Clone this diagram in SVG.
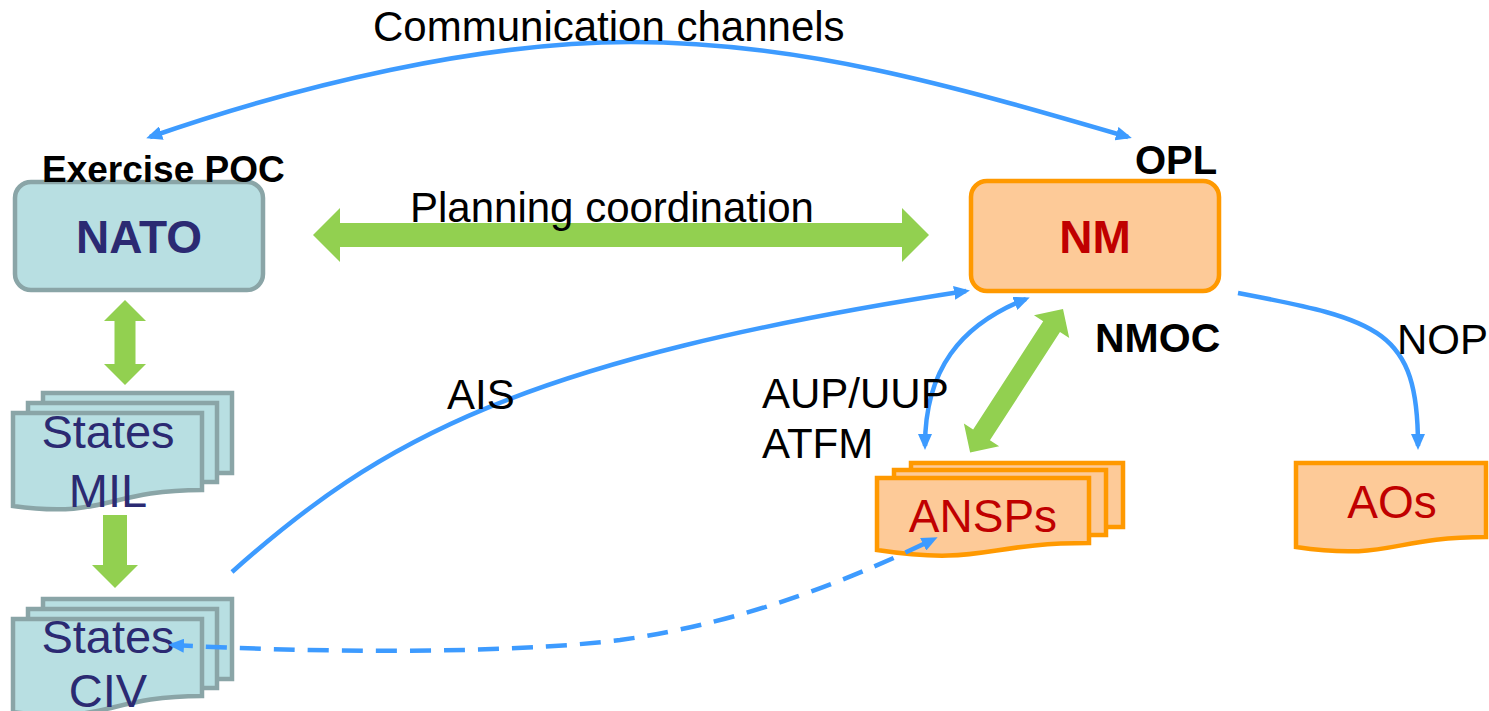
<svg xmlns="http://www.w3.org/2000/svg" width="1489" height="711" viewBox="0 0 1489 711">
<style>
text{font-family:"Liberation Sans",Arial,sans-serif;}
.lbl{font-size:42px;fill:#000;}
.blbl{font-weight:bold;fill:#000;}
.blue{fill:#b8dfe2;stroke:#8aa5a7;stroke-width:4.5;}
.org{fill:#fdca98;stroke:#ff9900;stroke-width:4.5;}
.navy{fill:#2b2a72;}
.red{fill:#c00000;}
.con{fill:none;stroke:#3d9bff;stroke-width:4.5;}
.dash{stroke-dasharray:21 13;}
.green{fill:#92d050;}
</style>
<defs>
<marker id="ah" markerUnits="userSpaceOnUse" markerWidth="16" markerHeight="14" refX="12" refY="7" orient="auto-start-reverse" viewBox="0 0 16 14">
<path d="M0,0 L16,7 L0,14 Z" fill="#3d9bff"/>
</marker>
<g id="multidoc-blue">
<rect class="blue" x="30" y="-20" width="189" height="80"/>
<rect class="blue" x="15" y="-10" width="189" height="79"/>
<path class="blue" d="M0,0 H189 V77 C94,77 94,106 0,93 Z"/>
</g>
</defs>

<g id="nato">
<rect class="blue" x="15" y="182" width="248" height="108" rx="16"/>
<text class="navy" x="139" y="253" font-size="46" font-weight="bold" text-anchor="middle">NATO</text>
</g>

<g id="nm">
<rect class="org" x="971" y="181" width="248" height="110" rx="16"/>
<text class="red" x="1095" y="253" font-size="46" font-weight="bold" text-anchor="middle">NM</text>
</g>

<g id="states-mil">
<use href="#multidoc-blue" transform="translate(13,413)"/>
<text class="navy" x="108" y="448" font-size="47" text-anchor="middle">States</text>
<text class="navy" x="108" y="507" font-size="47" text-anchor="middle">MIL</text>
</g>

<g id="states-civ">
<use href="#multidoc-blue" transform="translate(13,619)"/>
<text class="navy" x="108" y="653" font-size="47" text-anchor="middle">States</text>
<text class="navy" x="108" y="707" font-size="47" text-anchor="middle">CIV</text>
</g>

<g id="ansps">
<g transform="translate(877,478)">
<rect class="org" x="34" y="-15" width="212" height="64"/>
<rect class="org" x="17" y="-8" width="212" height="65"/>
<path class="org" d="M0,0 H212 V65 C106,65 106,88 0,72 Z"/>
</g>
<text class="red" x="983" y="532" font-size="46" text-anchor="middle">ANSPs</text>
</g>

<g id="aos">
<path class="org" d="M1296,463 H1486 V537 C1391,537 1391,561 1296,547 Z"/>
<text class="red" x="1392" y="518" font-size="46" text-anchor="middle">AOs</text>
</g>

<g id="connectors">
<path class="con" d="M150,137 C300,85 480,42 631,42 C800,42 950,85 1128,137" marker-start="url(#ah)" marker-end="url(#ah)"/>
<polygon class="green" points="313,235 340,208 340,223 902,223 902,208 929,235 902,262 902,247 340,247 340,262"/>
<polygon class="green" points="125,300 146,321 135.5,321 135.5,364 146,364 125,385 104,364 114.5,364 114.5,321 104,321"/>
<polygon class="green" points="103,515 127,515 127,565 138,565 115,588 92,565 103,565"/>
<polygon class="green" transform="translate(1063,309) rotate(122.9)" points="0,0 21,-21 21,-10 150,-10 150,-21 171,0 150,21 150,10 21,10 21,21"/>
<path class="con" d="M232,572 C380,440 520,360 966,291" marker-end="url(#ah)"/>
<path class="con" d="M1026,299 C960,325 925,370 925,446" marker-start="url(#ah)" marker-end="url(#ah)"/>
<path class="con" d="M1238,293 C1380,320 1418,330 1418,446" marker-end="url(#ah)"/>
<path class="con dash" d="M172,645 C300,652 500,655 620,640 C750,622 860,575 934,539" marker-start="url(#ah)" marker-end="url(#ah)"/>
</g>

<g id="labels">
<text class="lbl" x="373" y="41" font-size="42.5">Communication channels</text>
<text class="lbl" x="410" y="222">Planning coordination</text>
<text class="blbl" x="42" y="182" font-size="37">Exercise POC</text>
<text class="blbl" x="1135" y="174" font-size="40">OPL</text>
<text class="blbl" x="1095" y="352" font-size="41">NMOC</text>
<text class="lbl" x="1397" y="354">NOP</text>
<text class="lbl" x="447" y="409">AIS</text>
<text class="lbl" x="762" y="408">AUP/UUP</text>
<text class="lbl" x="762" y="458">ATFM</text>
</g>
</svg>
